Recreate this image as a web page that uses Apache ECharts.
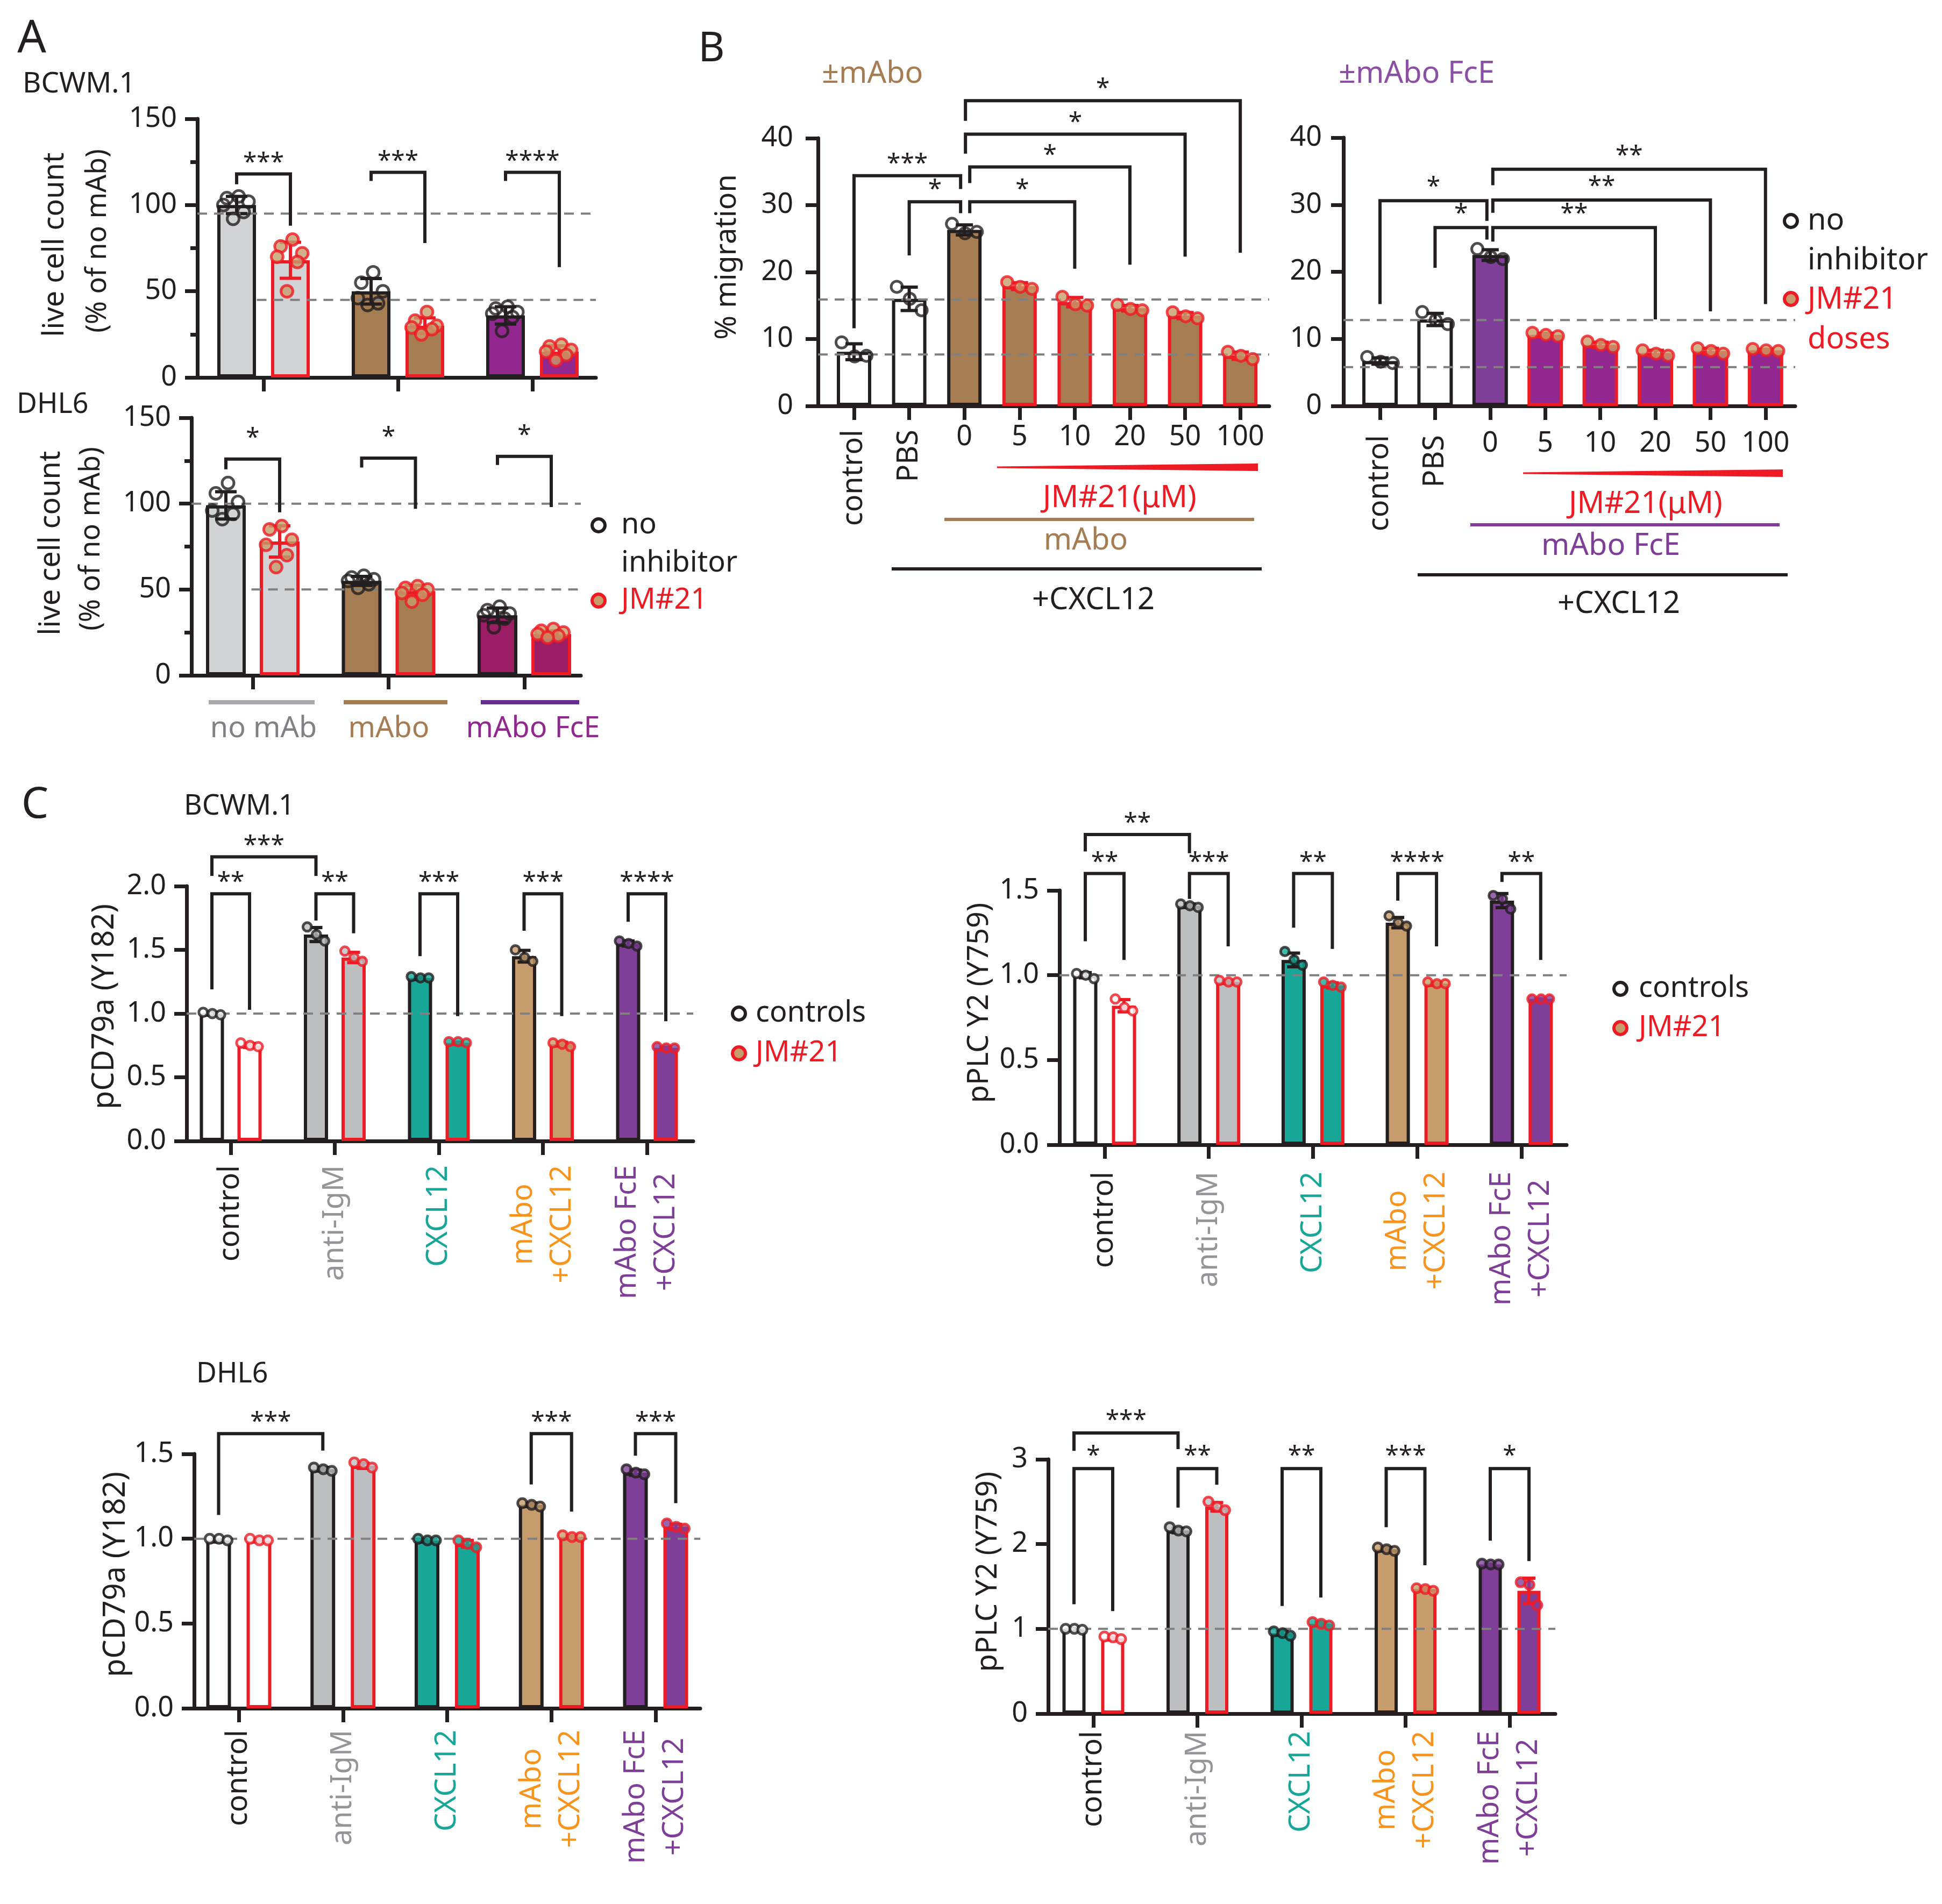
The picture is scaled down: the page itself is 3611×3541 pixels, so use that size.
<!DOCTYPE html>
<html>
<head>
<meta charset="utf-8">
<script src="https://cdn.jsdelivr.net/npm/echarts@6.0.0/dist/echarts.min.js"></script>
<style>
  html, body { margin: 0; padding: 0; background: #fff; }
  #chart { width: 3611px; height: 3541px; }
</style>
</head>
<body>
<div id="chart"></div>
<script>
// ---------- data ----------

// A: live cell count (% of no mAb)
const groupsA = ['no mAb', 'mAbo', 'mAbo FcE'];
const bcwmNoInh = [100, 50, 36];
const bcwmNoInhPts = [[105, 104, 102, 100, 96, 92], [61, 55, 50, 46, 43, 42], [41, 40, 38, 37, 35, 27]];
const bcwmJM = [68, 30, 15];
const bcwmJMPts = [[80, 76, 72, 70, 67, 50], [38, 33, 30, 29, 28, 25], [19, 18, 16, 15, 13, 10]];
const bcwmRef = [95, 45];
const bcwmSig = [[0, 1, 112, 118, 88, '***'], [2, 3, 114, 119, 78, '***'], [4, 5, 114, 119, 64, '****']];

const dhl6NoInh = [99, 55, 35];
const dhl6NoInhPts = [[112, 106, 101, 96, 94, 91], [58, 57, 56, 55, 53, 51], [40, 38, 36, 35, 33, 28]];
const dhl6JM = [78, 49, 24];
const dhl6JMPts = [[87, 85, 79, 76, 70, 63], [52, 51, 50, 48, 47, 43], [27, 26, 25, 24, 23, 22]];
const dhl6Ref = [100, 50];
const dhl6Sig = [[0, 1, 120, 126, 95, '*'], [2, 3, 121, 126.5, 97, '*'], [4, 5, 122.5, 127.5, 98, '*']];

// B: % migration, JM#21 doses (uM)
const doseCats = ['control', 'PBS', '0', '5', '10', '20', '50', '100'];
const migMabo = [8.1, 16.0, 26.3, 17.9, 15.5, 14.6, 13.5, 7.5];
const migMaboPts = [[9.5, 7.4, 7.5], [17.8, 16.0, 14.3], [27.2, 25.8, 26.0], [18.5, 17.8, 17.5],
  [16.3, 15.2, 15.0], [15.1, 14.5, 14.3], [14.0, 13.4, 13.1], [8.1, 7.5, 7.0]];
const migMaboRef = [15.9, 7.7];
const migMaboSig = [[0, 2, 11.6, 34.4, 32.4, '***'], [1, 2, 22.5, 30.5, 28.8, '*'], [2, 4, 28.8, 30.5, 20.5, '*'],
  [2, 5, 33.3, 35.7, 21.1, '*'], [2, 6, 37.7, 40.6, 22.3, '*'], [2, 7, 42.6, 45.6, 22.9, '*']];

const migFce = [6.7, 12.9, 22.5, 10.6, 9.1, 7.9, 8.2, 8.3];
const migFcePts = [[7.3, 6.6, 6.4], [14.0, 12.8, 12.2], [23.4, 22.2, 21.9], [10.9, 10.6, 10.4],
  [9.6, 9.1, 8.8], [8.3, 7.8, 7.5], [8.6, 8.2, 7.8], [8.5, 8.3, 8.2]];
const migFceRef = [12.8, 5.8];
const migFceSig = [[0, 2, 15.2, 30.6, 27.6, '*'], [1, 2, 20.6, 26.6, 24.8, '*'], [2, 5, 24.5, 26.6, 12.9, '**'],
  [2, 6, 28.8, 30.7, 14.1, '**'], [2, 7, 32.9, 35.3, 15.2, '**']];

// C: phospho signals, controls vs JM#21
const groupsC = ['control', 'anti-IgM', 'CXCL12', 'mAbo\n+CXCL12', 'mAbo FcE\n+CXCL12'];

const bcwmCd79 = [1.0, 1.62, 1.28, 1.45, 1.55];
const bcwmCd79Pts = [[1.01, 1.0, 0.99], [1.68, 1.62, 1.57], [1.29, 1.28, 1.28], [1.5, 1.44, 1.41], [1.57, 1.55, 1.53]];
const bcwmCd79JM = [0.75, 1.44, 0.77, 0.76, 0.73];
const bcwmCd79JMPts = [[0.77, 0.75, 0.74], [1.49, 1.44, 1.41], [0.78, 0.78, 0.77], [0.77, 0.76, 0.74], [0.74, 0.73, 0.73]];
const bcwmCd79Sig = [[0, 1, 1.19, 1.94, 1.03, '**'], [0, 2, 2.08, 2.23, 2.08, '***'], [2, 3, 1.73, 1.94, 1.63, '**'],
  [4, 5, 1.45, 1.94, 0.98, '***'], [6, 7, 1.65, 1.94, 0.98, '***'], [8, 9, 1.72, 1.94, 0.94, '****']];

const bcwmPlc = [1.0, 1.41, 1.09, 1.31, 1.44];
const bcwmPlcPts = [[1.01, 1.0, 0.98], [1.42, 1.41, 1.40], [1.14, 1.09, 1.06], [1.35, 1.31, 1.29], [1.47, 1.45, 1.39]];
const bcwmPlcJM = [0.82, 0.96, 0.94, 0.95, 0.86];
const bcwmPlcJMPts = [[0.86, 0.81, 0.79], [0.97, 0.96, 0.96], [0.96, 0.94, 0.93], [0.96, 0.95, 0.95], [0.86, 0.86, 0.86]];
const bcwmPlcSig = [[0, 2, 1.73, 1.83, 1.72, '**'], [0, 1, 1.2, 1.6, 1.09, '**'], [2, 3, 1.45, 1.6, 1.17, '***'],
  [4, 5, 1.28, 1.6, 1.155, '**'], [6, 7, 1.44, 1.6, 1.17, '****'], [8, 9, 1.55, 1.6, 1.09, '**']];

const dhl6Cd79 = [0.99, 1.41, 0.99, 1.2, 1.39];
const dhl6Cd79Pts = [[1.0, 1.0, 0.99], [1.42, 1.41, 1.40], [1.0, 0.99, 0.99], [1.21, 1.2, 1.19], [1.41, 1.39, 1.38]];
const dhl6Cd79JM = [0.99, 1.43, 0.97, 1.01, 1.07];
const dhl6Cd79JMPts = [[1.0, 0.99, 0.99], [1.45, 1.44, 1.42], [0.99, 0.97, 0.95], [1.02, 1.01, 1.01], [1.09, 1.07, 1.06]];
const dhl6Cd79Sig = [[0, 2, 1.14, 1.62, 1.52, '***'], [6, 7, 1.32, 1.62, 1.16, '***'], [8, 9, 1.49, 1.62, 1.21, '***']];

const dhl6Plc = [1.0, 2.16, 0.95, 1.94, 1.76];
const dhl6PlcPts = [[1.0, 1.0, 0.99], [2.2, 2.16, 2.15], [0.97, 0.95, 0.92], [1.96, 1.94, 1.92], [1.77, 1.76, 1.76]];
const dhl6PlcJM = [0.89, 2.44, 1.06, 1.47, 1.45];
const dhl6PlcJMPts = [[0.91, 0.9, 0.88], [2.5, 2.44, 2.4], [1.08, 1.06, 1.04], [1.48, 1.47, 1.45], [1.55, 1.52, 1.28]];
const dhl6PlcSig = [[0, 2, 3.1, 3.31, 3.12, '***'], [0, 1, 1.29, 2.89, 1.21, '*'], [2, 3, 2.43, 2.89, 2.7, '**'],
  [4, 5, 1.27, 2.89, 1.37, '**'], [6, 7, 2.2, 2.89, 1.75, '***'], [8, 9, 2.04, 2.89, 1.8, '*']];

// ---------- styles ----------
const FONT = 'Noto Sans';
const INK = '#231f20', RED = '#ed1c24', TAN = '#c69c6d', DASH = '#808080', HOLLOW = 'rgba(255,255,255,0)';
const GREY_A = '#d1d3d4', BROWN = '#a67c52', PURPLE = '#92278f', PLUM = '#9b1d64', VIOLET = '#7f3f98';
const GREY_C = '#bcbec0', TEAL = '#17a697';
const AXW = 7, FS = 52;

const panels = [
  { kind: 'group', cats: groupsA, fills: [GREY_A, BROWN, PURPLE], jmDot: TAN, ctrlDot: HOLLOW,
    ctrl: bcwmNoInh, ctrlPts: bcwmNoInhPts, jm: bcwmJM, jmPts: bcwmJMPts, ref: bcwmRef, sig: bcwmSig,
    y: { max: 150, interval: 50, minor: true, fmt: v => String(v) },
    L: { left: 367, right: 1108, top: 221, bottom: 702, t0: 490, step: 250, off: 50, bw: 72, dot: 22, cap: 20, starGap: 30, refStart: [null, -0.05] } },
  { kind: 'group', cats: groupsA, fills: [GREY_A, BROWN, PLUM], jmDot: TAN, ctrlDot: HOLLOW,
    ctrl: dhl6NoInh, ctrlPts: dhl6NoInhPts, jm: dhl6JM, jmPts: dhl6JMPts, ref: dhl6Ref, sig: dhl6Sig,
    y: { max: 150, interval: 50, minor: true, fmt: v => String(v) },
    L: { left: 356, right: 1080, top: 777, bottom: 1256, t0: 470, step: 252.5, off: 50, bw: 74, dot: 22, cap: 20, starGap: 48, refStart: [null, -0.01] } },
  { kind: 'dose', cats: doseCats, fills: ['#fff', '#fff', BROWN, BROWN, BROWN, BROWN, BROWN, BROWN], ctrlDot: HOLLOW,
    vals: migMabo, pts: migMaboPts, ref: migMaboRef, sig: migMaboSig, flat: [2, 3, 4, 5, 6, 7], rot: [0, 1],
    y: { max: 40, interval: 10, fmt: v => String(v) },
    L: { left: 1521, right: 2360, top: 257, bottom: 755, t0: 1588, step: 102.6, bw: 64, dot: 21, cap: 16, starGap: 31,
      ylm: 46, flatMargin: 32, rotMargin: 44, dx: [[0, -7], [0, -7], [10, 0], [10, 0], [2, 0], [2, 0]] } },
  { kind: 'dose', cats: doseCats, fills: ['#fff', '#fff', VIOLET, PURPLE, PURPLE, PURPLE, PURPLE, PURPLE], ctrlDot: HOLLOW,
    vals: migFce, pts: migFcePts, ref: migFceRef, sig: migFceSig, flat: [2, 3, 4, 5, 6, 7], rot: [0, 1],
    y: { max: 40, interval: 10, fmt: v => String(v) },
    L: { left: 2498, right: 3338, top: 256, bottom: 755, t0: 2566, step: 102.4, bw: 66, dot: 21, cap: 16, starGap: 34,
      ylm: 40, flatMargin: 44, rotMargin: 54, dx: [[0, -6], [0, -6], [5, 0], [5, 0], [5, 0]] } },
  { kind: 'group', cats: groupsC, fills: ['#fff', GREY_C, TEAL, TAN, VIOLET], rot: [0, 1, 2, 3, 4],
    ctrl: bcwmCd79, ctrlPts: bcwmCd79Pts, jm: bcwmCd79JM, jmPts: bcwmCd79JMPts, ref: [1.0], sig: bcwmCd79Sig,
    y: { max: 2.0, interval: 0.5, fmt: v => v.toFixed(1) },
    L: { left: 347, right: 1289, top: 1648, bottom: 2122, t0: 429, step: 193.5, off: 35, bw: 45, dot: 16, cap: 12, starGap: 30, rotMargin: 45 } },
  { kind: 'group', cats: groupsC, fills: ['#fff', GREY_C, TEAL, TAN, VIOLET], rot: [0, 1, 2, 3, 4],
    ctrl: bcwmPlc, ctrlPts: bcwmPlcPts, jm: bcwmPlcJM, jmPts: bcwmPlcJMPts, ref: [1.0], sig: bcwmPlcSig,
    y: { max: 1.5, interval: 0.5, fmt: v => v.toFixed(1) },
    L: { left: 1970, right: 2913, top: 1656, bottom: 2129, t0: 2054, step: 193.7, off: 36, bw: 45, dot: 16, cap: 12, starGap: 30, rotMargin: 50 } },
  { kind: 'group', cats: groupsC, fills: ['#fff', GREY_C, TEAL, TAN, VIOLET], rot: [0, 1, 2, 3, 4],
    ctrl: dhl6Cd79, ctrlPts: dhl6Cd79Pts, jm: dhl6Cd79JM, jmPts: dhl6Cd79JMPts, ref: [1.0], sig: dhl6Cd79Sig,
    y: { max: 1.5, interval: 0.5, fmt: v => v.toFixed(1) },
    L: { left: 361, right: 1302, top: 2704, bottom: 3177, t0: 444, step: 193.75, off: 37.5, bw: 46, dot: 17, cap: 12, starGap: 30, rotMargin: 40 } },
  { kind: 'group', cats: groupsC, fills: ['#fff', GREY_C, TEAL, TAN, VIOLET], rot: [0, 1, 2, 3, 4],
    ctrl: dhl6Plc, ctrlPts: dhl6PlcPts, jm: dhl6PlcJM, jmPts: dhl6PlcJMPts, ref: [1.0], sig: dhl6PlcSig,
    y: { max: 3, interval: 1, fmt: v => String(v) },
    L: { left: 1949, right: 2892, top: 2714, bottom: 3187, t0: 2033, step: 193.5, off: 36, bw: 43, dot: 17, cap: 12, starGap: 32, rotMargin: 32 } }
];
const catColorsC = [INK, '#939598', TEAL, '#f7941d', VIOLET];

// ---------- helpers ----------
function sd(a) {
  const m = a.reduce((s, v) => s + v, 0) / a.length;
  return Math.sqrt(a.reduce((s, v) => s + (v - m) * (v - m), 0) / (a.length - 1));
}
// horizontal placement of the replicate dots inside a bar (px), scattered rather than a staircase
const DOT_ORDER = { 3: [-1, 0.05, 1], 6: [0.15, -0.7, 0.85, -0.95, 0.5, -0.25] };
function spread(n, bw) {
  const w = bw * 0.36;
  const order = DOT_ORDER[n] || Array.from({ length: n }, (_, k) => n === 1 ? 0 : -1 + (2 * k) / (n - 1));
  return order.map(f => f * w);
}

const option = {
  backgroundColor: '#fff',
  animation: false,
  grid: [], xAxis: [], yAxis: [], series: [],
  graphic: { elements: [] }
};

function buildBars(p) {
  const L = p.L, bars = [];
  if (p.kind === 'group') {
    const d = L.off / L.step;
    p.cats.forEach((c, g) => {
      bars.push({ x: g - d, v: p.ctrl[g], pts: p.ctrlPts[g], fill: p.fills[g], border: INK, dotFill: p.ctrlDot || p.fills[g] });
      bars.push({ x: g + d, v: p.jm[g], pts: p.jmPts[g], fill: p.fills[g], border: RED, dotFill: p.jmDot || p.fills[g] });
    });
  } else {
    p.cats.forEach((c, i) => {
      const jm = i >= 3;
      bars.push({ x: i, v: p.vals[i], pts: p.pts[i], fill: p.fills[i], border: jm ? RED : INK, dotFill: jm ? TAN : (p.ctrlDot || p.fills[i]) });
    });
  }
  return bars;
}

function addPanel(p) {
  const L = p.L;
  const gi = option.grid.length;
  option.grid.push({ left: L.left, top: L.top, width: L.right - L.left, height: L.bottom - L.top, outerBoundsMode: 'none' });
  const xmin = -(L.t0 - L.left) / L.step, xmax = (L.right - L.t0) / L.step, u = 1 / L.step;
  const flat = p.flat || [];
  const xi = option.xAxis.length;
  option.xAxis.push({
    type: 'value', gridIndex: gi, min: xmin, max: xmax, position: 'bottom',
    splitLine: { show: false },
    axisLine: { show: true, onZero: false, lineStyle: { color: INK, width: AXW } },
    axisTick: { show: true, customValues: p.cats.map((c, i) => i), length: 26, lineStyle: { color: INK, width: AXW } },
    axisLabel: { show: flat.length > 0, customValues: flat, margin: L.flatMargin || 34, fontSize: FS,
      fontFamily: FONT, color: INK, formatter: v => p.cats[Math.round(v)] }
  });
  if (p.rot) {
    const colors = p.kind === 'group' ? catColorsC : p.cats.map(() => INK);
    const rich = {};
    p.cats.forEach((c, i) => {
      rich['c' + i] = { color: colors[i], fontSize: 54, fontFamily: FONT, align: 'center', lineHeight: 72 };
    });
    option.xAxis.push({
      type: 'value', gridIndex: gi, min: xmin, max: xmax, position: 'bottom',
      splitLine: { show: false }, axisLine: { show: false, onZero: false }, axisTick: { show: false },
      axisLabel: { show: true, customValues: p.rot, rotate: 90, margin: L.rotMargin,
        formatter: v => { const i = Math.round(v); return p.cats[i].split('\n').map(s => '{c' + i + '|' + s + '}').join('\n'); },
        rich }
    });
  }
  const yi = option.yAxis.length;
  option.yAxis.push({
    type: 'value', gridIndex: gi, min: 0, max: p.y.max, interval: p.y.interval, position: 'left',
    axisLine: { show: true, onZero: false, lineStyle: { color: INK, width: AXW } },
    axisTick: { show: true, length: 23, lineStyle: { color: INK, width: AXW } },
    minorTick: { show: !!p.y.minor, splitNumber: 2, length: 13, lineStyle: { color: INK, width: AXW } },
    splitLine: { show: false }, minorSplitLine: { show: false },
    axisLabel: { margin: L.ylm || 38, fontSize: FS, fontFamily: FONT, color: INK, formatter: p.y.fmt }
  });

  const bars = buildBars(p);

  option.series.push({
    type: 'bar', xAxisIndex: xi, yAxisIndex: yi, barWidth: L.bw, z: 2, silent: true,
    data: bars.map(b => ({ value: [b.x, b.v], itemStyle: { color: b.fill, borderColor: b.border, borderWidth: 6 } }))
  });

  p.ref.forEach((v, k) => {
    const x0 = L.refStart && L.refStart[k] != null ? L.refStart[k] : xmin;
    option.series.push({
      type: 'line', xAxisIndex: xi, yAxisIndex: yi, data: [[x0, v], [xmax, v]], symbol: 'none', silent: true, z: 3,
      lineStyle: { color: DASH, width: 4, type: [18, 13] }
    });
  });

  option.series.push({
    type: 'custom', xAxisIndex: xi, yAxisIndex: yi, z: 3, silent: true,
    data: bars.map(b => { const e = sd(b.pts); return [b.x, b.v - e, b.v + e]; }),
    renderItem: (params, api) => {
      const b = bars[params.dataIndex], x = api.value(0);
      const lo = api.coord([x, api.value(1)]), hi = api.coord([x, api.value(2)]);
      const st = { stroke: b.border, lineWidth: 6 };
      return { type: 'group', children: [
        { type: 'line', shape: { x1: lo[0], y1: lo[1], x2: hi[0], y2: hi[1] }, style: st },
        { type: 'line', shape: { x1: hi[0] - L.cap, y1: hi[1], x2: hi[0] + L.cap, y2: hi[1] }, style: st },
        { type: 'line', shape: { x1: lo[0] - L.cap, y1: lo[1], x2: lo[0] + L.cap, y2: lo[1] }, style: st }
      ] };
    }
  });

  const dots = [];
  bars.forEach(b => {
    const offs = spread(b.pts.length, L.bw);
    b.pts.forEach((v, k) => dots.push({ value: [b.x + offs[k] * u, v],
      itemStyle: { color: b.dotFill, borderColor: b.border, borderWidth: 5 } }));
  });
  option.series.push({ type: 'scatter', xAxisIndex: xi, yAxisIndex: yi, symbol: 'circle', symbolSize: L.dot,
    data: dots, z: 4, clip: false, silent: true });

  option.series.push({
    type: 'custom', xAxisIndex: xi, yAxisIndex: yi, z: 5, clip: false, silent: true,
    data: p.sig.map((s, k) => {
      const dx = (L.dx && L.dx[k]) || [0, 0];
      return [bars[s[0]].x + dx[0] * u, s[2], bars[s[1]].x + dx[1] * u, s[4], s[3]];
    }),
    renderItem: (params, api) => {
      const xa = api.value(0), xb = api.value(2), top = api.value(4);
      const p1 = api.coord([xa, api.value(1)]), p2 = api.coord([xa, top]);
      const p3 = api.coord([xb, top]), p4 = api.coord([xb, api.value(3)]);
      const label = p.sig[params.dataIndex][5];
      return { type: 'group', children: [
        { type: 'polyline', shape: { points: [p1, p2, p3, p4] },
          style: { stroke: INK, lineWidth: 6, fill: 'none', lineJoin: 'miter', lineCap: 'butt' } },
        { type: 'text', x: (p2[0] + p3[0]) / 2, y: p2[1] - L.starGap + 10,
          style: { text: label, fill: INK, fontSize: 46, fontFamily: FONT, font: '46px "Noto Sans"',
            align: 'center', textAlign: 'center', verticalAlign: 'middle', textVerticalAlign: 'middle' } }
      ] };
    }
  });
}

panels.forEach(addPanel);

// ---------- labels, legends and decorations ----------
const G = option.graphic.elements;
function text(x, y, s, o) {
  o = o || {};
  const size = o.size || 54, al = o.align || 'center';
  G.push({ type: 'text', x, y, rotation: o.rot ? Math.PI / 2 : 0, silent: true, z: 10,
    style: { text: s, fill: o.color || INK, fontSize: size, fontFamily: FONT, font: size + 'px "Noto Sans"',
      align: al, textAlign: al, verticalAlign: 'middle', textVerticalAlign: 'middle' } });
}
function dot(x, y, red) {
  G.push({ type: 'circle', shape: { cx: x, cy: y, r: 12 }, silent: true, z: 10,
    style: { fill: red ? TAN : '#fff', stroke: red ? RED : INK, lineWidth: 6 } });
}
function rule(x1, x2, y, color, w) {
  G.push({ type: 'line', shape: { x1, y1: y, x2, y2: y }, silent: true, z: 10, style: { stroke: color, lineWidth: w } });
}
function wedge(x1, x2, y) {
  G.push({ type: 'polygon', silent: true, z: 10, shape: { points: [[x1, y - 1.5], [x2, y - 7], [x2, y + 7], [x1, y + 1.5]] },
    style: { fill: RED } });
}

// panel A
text(59, 74, 'A', { size: 84 });
text(42, 157, 'BCWM.1', { align: 'left', size: 53 });
text(31, 753, 'DHL6', { align: 'left', size: 52 });
text(103, 455, 'live cell count', { rot: true });
text(182, 448, '(% of no mAb)', { rot: true, size: 52 });
text(96, 1010, 'live cell count', { rot: true });
text(170, 1002, '(% of no mAb)', { rot: true, size: 52 });
dot(1113, 977, false); text(1155, 977, 'no', { align: 'left' });
text(1155, 1048, 'inhibitor', { align: 'left' });
dot(1113, 1117, true); text(1155, 1117, 'JM#21', { align: 'left', color: RED });
rule(388, 585, 1306, '#a7a9ac', 8);
rule(639, 832, 1306, BROWN, 8);
rule(894, 1077, 1306, '#662d91', 8);
text(490, 1356, 'no mAb', { color: '#808285' });
text(723, 1356, 'mAbo', { color: BROWN });
text(991, 1356, 'mAbo FcE', { color: PURPLE });

// panel B
text(1323, 92, 'B', { size: 76 });
text(1528, 138, '±mAbo', { align: 'left', color: BROWN, size: 56 });
text(1353, 478, '% migration', { rot: true });
wedge(1854, 2339, 869);
text(2082, 927, 'JM#21(μM)', { color: RED, size: 56 });
rule(1756, 2332, 966, BROWN, 6);
text(2019, 1006, 'mAbo', { color: BROWN, size: 56 });
rule(1658, 2346, 1058, INK, 6);
text(2033, 1117, '+CXCL12', { size: 56 });

text(2489, 138, '±mAbo FcE', { align: 'left', color: '#8b4fa3', size: 56 });
wedge(2832, 3315, 880);
text(3060, 938, 'JM#21(μM)', { color: RED, size: 56 });
rule(2734, 3309, 976, VIOLET, 6);
text(2995, 1016, 'mAbo FcE', { color: VIOLET, size: 56 });
rule(2636, 3324, 1069, INK, 6);
text(3010, 1124, '+CXCL12', { size: 56 });
dot(3330, 411, false); text(3361, 411, 'no', { align: 'left', size: 56 });
text(3361, 485, 'inhibitor', { align: 'left', size: 56 });
dot(3330, 556, true); text(3361, 558, 'JM#21', { align: 'left', color: RED, size: 56 });
text(3361, 632, 'doses', { align: 'left', color: RED, size: 56 });

// panel C
text(65, 1498, 'C', { size: 80 });
text(342, 1500, 'BCWM.1', { align: 'left', size: 52 });
text(195, 1872, 'pCD79a (Y182)', { rot: true, size: 56 });
dot(1374, 1885, false); text(1405, 1885, 'controls', { align: 'left' });
dot(1374, 1959, true); text(1405, 1959, 'JM#21', { align: 'left', color: RED });
text(1822, 1865, 'pPLC Y2 (Y759)', { rot: true });
dot(3013, 1839, false); text(3047, 1839, 'controls', { align: 'left' });
dot(3013, 1912, true); text(3047, 1912, 'JM#21', { align: 'left', color: RED });
text(365, 2556, 'DHL6', { align: 'left', size: 52 });
text(216, 2928, 'pCD79a (Y182)', { rot: true, size: 56 });
text(1838, 2923, 'pPLC Y2 (Y759)', { rot: true });

const chart = echarts.init(document.getElementById('chart'));
chart.setOption(option);
</script>
</body>
</html>
